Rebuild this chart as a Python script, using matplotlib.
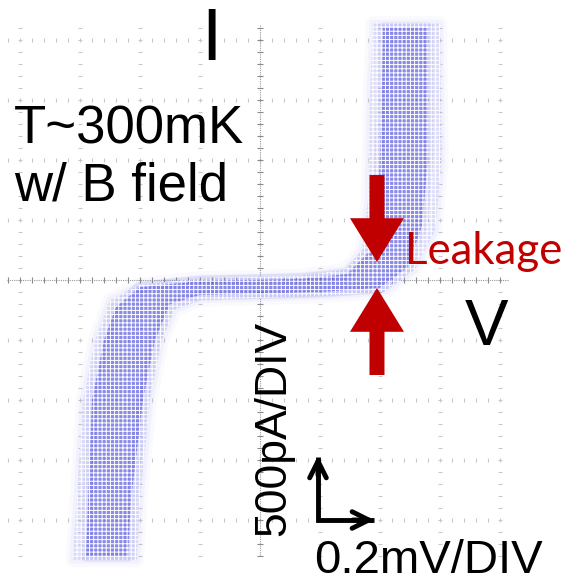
import numpy as np
import matplotlib.pyplot as plt
from matplotlib.patches import Polygon, FancyArrow

plt.rcParams['font.family'] = ['Liberation Sans', 'DejaVu Sans']
plt.rcParams['hatch.linewidth'] = 0.7

# scope trace envelope, in divisions (V: 0.2 mV/div, I: 500 pA/div)
# outer (faint) envelope: left/upper edge then right/lower edge
outer_left_v = [-3.12, -2.95, -2.75, -2.5, -2.0, -1.0, 0.67, 1.42, 1.7, 1.8, 1.83, 1.88]
outer_left_i = [-4.67, -2.0, -1.0, -0.33, -0.08, 0.03, 0.07, 0.17, 0.5, 1.33, 3.0, 4.28]
outer_right_v = [3.0, 3.03, 2.92, 2.58, 2.08, 1.0, -1.0, -1.42, -1.63, -1.83, -2.0, -2.05]
outer_right_i = [4.28, 2.0, 0.83, 0.17, -0.2, -0.27, -0.33, -0.5, -1.0, -2.0, -3.67, -4.67]

# dense core of the trace
core_left_v = [-2.9, -2.8, -2.6, -2.4, -2.0, -1.0, 0.7, 1.45, 1.85, 1.97, 2.03, 2.05]
core_left_i = [-4.6, -2.0, -1.0, -0.45, -0.12, -0.02, 0.02, 0.1, 0.5, 1.3, 3.0, 4.2]
core_right_v = [2.8, 2.8, 2.7, 2.45, 2.0, 1.0, -1.0, -1.5, -1.75, -1.95, -2.15, -2.2]
core_right_i = [4.2, 2.0, 0.9, 0.2, -0.13, -0.2, -0.25, -0.4, -1.0, -2.0, -3.67, -4.6]

grid_divs = [-4, -3, -2, -1, 0, 1, 2, 3, 4]

fig = plt.figure(figsize=(5.64, 5.83), dpi=100)
ax = fig.add_axes([0, 0, 1, 1])
ax.set_xlim(-4.333, 5.067)
ax.set_ylim(-5.05, 4.667)
ax.axis('off')

# graticule
x_lo, x_hi = -4.22, 4.15
y_lo, y_hi = -4.58, 4.25
sub_x = np.arange(-4.2, 4.15, 0.2)
sub_y = np.arange(-4.6, 4.25, 0.2)
for k in grid_divs:
    if k == 0:
        continue
    ax.plot(sub_x, np.full_like(sub_x, k), ls='none', marker='|', ms=3,
            mew=0.8, color='#c8c8c8', zorder=1)
    ax.plot(np.full_like(sub_y, k), sub_y, ls='none', marker='_', ms=3,
            mew=0.8, color='#c8c8c8', zorder=1)
ax.plot([x_lo, x_hi], [0, 0], ls=(0, (1, 1)), lw=0.8, color='#9a9a9a', zorder=1)
ax.plot([0, 0], [y_lo, y_hi], ls=(0, (1, 1)), lw=0.8, color='#9a9a9a', zorder=1)
ax.plot(sub_x, np.zeros_like(sub_x), ls='none', marker='|', ms=5, mew=0.8,
        color='#8a8a8a', zorder=1)
ax.plot(np.zeros_like(sub_y), sub_y, ls='none', marker='_', ms=5, mew=0.8,
        color='#8a8a8a', zorder=1)

# trace: soft halo, faint envelope, dense core, then the dot texture
outer = np.column_stack([outer_left_v + outer_right_v, outer_left_i + outer_right_i])
core = np.column_stack([core_left_v + core_right_v, core_left_i + core_right_i])
for lw, a in [(10, 0.05), (5, 0.08)]:
    ax.add_patch(Polygon(outer, closed=True, facecolor='none',
                         edgecolor='#a0a0f0', alpha=a, lw=lw,
                         joinstyle='round', zorder=2))
ax.add_patch(Polygon(outer, closed=True, facecolor='#a0a0f0', alpha=0.3,
                     lw=0, zorder=2))
for lw, a in [(8, 0.12), (0, 0.6)]:
    ax.add_patch(Polygon(core, closed=True, facecolor='#5050dc' if lw == 0 else 'none',
                         edgecolor='#5050dc', alpha=a, lw=lw,
                         joinstyle='round', zorder=3))
ax.add_patch(Polygon(outer, closed=True, facecolor='none', edgecolor='white',
                     hatch='++++', lw=0, zorder=4))

# leakage arrows
red = '#c00000'
ax.add_patch(FancyArrow(1.95, 1.75, 0, -1.45, width=0.25, head_width=0.9,
                        head_length=0.73, length_includes_head=True,
                        color=red, lw=0, zorder=5))
ax.add_patch(FancyArrow(1.95, -1.583, 0, 1.45, width=0.25, head_width=0.9,
                        head_length=0.73, length_includes_head=True,
                        color=red, lw=0, zorder=5))

# scale arrows
ax.plot([0.967, 0.967, 1.9], [-2.95, -4.0, -4.0], color='black', lw=3.5,
        solid_joinstyle='miter', solid_capstyle='butt', zorder=5)
ax.annotate('', xy=(0.967, -2.883), xytext=(0.967, -3.3),
            arrowprops=dict(arrowstyle='->', lw=3.5, color='black',
                            mutation_scale=30), zorder=5)
ax.annotate('', xy=(1.95, -4.0), xytext=(1.5, -4.0),
            arrowprops=dict(arrowstyle='->', lw=3.5, color='black',
                            mutation_scale=30), zorder=5)

# labels
ax.text(-0.817, 3.667, 'I', fontsize=53, ha='center', va='baseline', zorder=6)
ax.text(-4.1, 2.283, 'T~300mK', fontsize=38, ha='left', va='baseline', zorder=6)
ax.text(-4.1, 1.333, 'w/ B field', fontsize=38, ha='left', va='baseline', zorder=6)
ax.text(2.42, 0.267, 'Leakage', fontsize=31.5, color=red, family='Lato',
        ha='left', va='baseline', zorder=6)
ax.text(3.767, -1.083, 'V', fontsize=47, ha='center', va='baseline', zorder=6)
ax.text(0.417, -2.467, '500pA/DIV', fontsize=32, rotation=90,
        rotation_mode='anchor', ha='center', va='baseline', zorder=6)
ax.text(0.9, -4.88, '0.2mV/DIV', fontsize=34, ha='left', va='baseline', zorder=6)

fig.savefig('out.png', dpi=100)
